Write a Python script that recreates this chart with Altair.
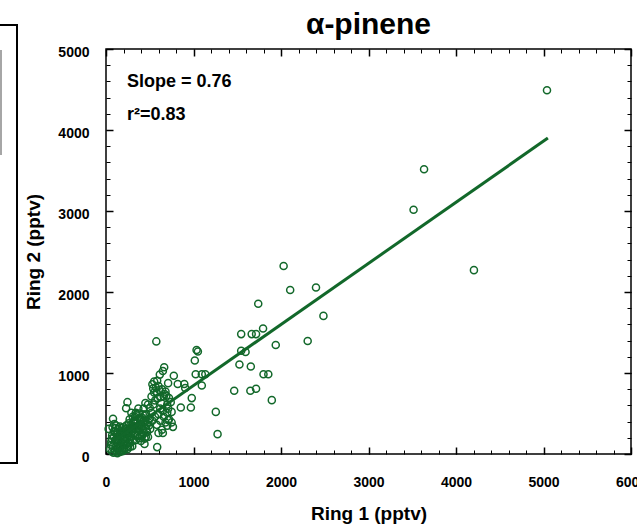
import altair as alt
import pandas as pd

# Ring 1 (x) and Ring 2 (y) concentrations, pptv
ring1 = [
    45, 60, 70, 80, 90, 100, 105, 115, 120, 125,
    130, 135, 140, 145, 150, 155, 160, 165, 170, 175,
    180, 185, 190, 195, 200, 205, 210, 215, 220, 225,
    230, 235, 240, 245, 250, 255, 260, 265, 270, 275,
    70, 85, 100, 120, 140, 160, 180, 200, 220, 240,
    130, 160, 190, 210, 230, 250, 170, 150, 110, 90,
    65, 55, 75, 95, 115, 280, 290, 300, 310, 320,
    330, 340, 350, 360, 370, 380, 390, 400, 410, 420,
    280, 300, 320, 340, 360, 380, 400, 420, 440, 460,
    270, 290, 310, 330, 350, 370, 390, 410, 430, 450,
    285, 325, 365, 405, 445, 485, 255, 295, 335, 375,
    415, 455, 265, 305, 345, 385, 425, 465, 505, 150,
    430, 440, 450, 460, 470, 480, 490, 500, 480, 500,
    520, 540, 560, 580, 600, 620, 640, 660, 680, 700,
    720, 740, 520, 540, 560, 580, 600, 620, 640, 660,
    680, 700, 720, 550, 570, 590, 610, 630, 650, 670,
    690, 710, 530, 600, 650, 700, 750, 530, 620, 750,
    5040, 3635, 3515, 4205, 2030, 2105, 2400, 1740, 2485, 1940,
    2305, 1895, 1795, 1545, 1665, 1715, 1035, 1050, 1545, 1595,
    1015, 1525, 1655, 1025, 1095, 1135, 1800, 1855, 895, 1095,
    1465, 1650, 1715, 980, 855, 970, 1255, 1275, 575, 665,
    650, 615, 775, 550, 585, 710, 820, 905, 245, 230,
    80, 765, 585, 440, 30, 710,
]
ring2 = [
    60, 150, 30, 100, 210, 50, 170, 90, 260, 20,
    140, 70, 220, 180, 40, 110, 280, 200, 90, 150,
    320, 45, 240, 130, 180, 70, 290, 210, 160, 110,
    350, 250, 190, 60, 220, 140, 380, 300, 170, 90,
    230, 15, 270, 190, 310, 340, 265, 330, 270, 310,
    10, 25, 35, 55, 120, 85, 225, 65, 320, 280,
    190, 110, 330, 370, 350, 360, 210, 320, 390, 260,
    460, 170, 340, 410, 280, 500, 220, 370, 450, 310,
    140, 95, 410, 510, 230, 360, 160, 490, 390, 310,
    430, 510, 170, 310, 490, 560, 430, 340, 260, 630,
    330, 340, 320, 430, 480, 390, 270, 265, 230, 195,
    230, 210, 240, 460, 390, 310, 400, 360, 310, 150,
    560, 190, 400, 490, 270, 610, 350, 440, 210, 570,
    710, 810, 660, 760, 840, 560, 800, 710, 770, 610,
    690, 640, 510, 610, 460, 360, 490, 410, 300, 460,
    390, 510, 430, 760, 820, 690, 790, 630, 530, 740,
    720, 560, 410, 260, 260, 350, 390, 860, 700, 520,
    4490, 3515, 3015, 2270, 2320, 2025, 2055, 1855, 1705, 1345,
    1395, 665, 1550, 1480, 1480, 1480, 1285, 1265, 1275, 1260,
    1155, 1105, 1080, 985, 985, 985, 985, 985, 865, 845,
    780, 780, 805, 690, 575, 575, 520, 245, 1390, 1070,
    1025, 980, 965, 895, 905, 875, 865, 815, 640, 565,
    435, 335, 85, 125, 310, 420,
]

# Regression line end points
fit_x = [50, 5050]
fit_y = [128, 3900]

# Axis tick values
x_major = [0, 1000, 2000, 3000, 4000, 5000, 6000]
y_major = [0, 1000, 2000, 3000, 4000, 5000]
x_minor = list(range(0, 6001, 200))
y_minor = list(range(0, 5001, 200))

GREEN = "#12682a"
FONT = "Liberation Sans"

pts = pd.DataFrame({"ring1": ring1, "ring2": ring2})
fit = pd.DataFrame({"ring1": fit_x, "ring2": fit_y})

xs = alt.Scale(domain=[0, 6000], nice=False, zero=False)
ys = alt.Scale(domain=[0, 5000], nice=False, zero=False)


def tick_axis(orient, values, size, width, labels=False, title=None, pad=0,
              tpad=0, loff=0):
    kw = dict(
        orient=orient, values=values, tickSize=size, offset=-size,
        tickWidth=width, tickColor="black", domain=False, grid=False,
        labels=labels, ticks=True,
    )
    if labels:
        kw.update(labelPadding=pad, format="d", labelFont=FONT,
                  labelFontSize=14, labelFontWeight="bold", labelColor="black",
                  labelFlush=False, labelOverlap=False, labelOffset=loff,
                  labelBound=False)
    if title:
        kw.update(title=title, titleFont=FONT, titleFontSize=19,
                  titleFontWeight="bold", titleColor="black", titlePadding=tpad)
    else:
        kw.update(title=None)
    return alt.Axis(**kw)


points = alt.Chart(pts).mark_point(
    shape="circle", filled=False, color=GREEN, size=50, strokeWidth=1.5, opacity=1
).encode(
    x=alt.X("ring1:Q", scale=xs,
            axis=tick_axis("bottom", x_major, 7, 1.5, labels=True,
                           title="Ring 1 (pptv)", pad=21, tpad=15)),
    y=alt.Y("ring2:Q", scale=ys,
            axis=tick_axis("left", y_major, 7, 1.5, labels=True,
                           title="Ring 2 (pptv)", pad=17, tpad=14, loff=3)),
)

line = alt.Chart(fit).mark_line(color=GREEN, strokeWidth=3).encode(
    x=alt.X("ring1:Q", scale=xs, axis=tick_axis("top", x_major, 7, 1.5)),
    y=alt.Y("ring2:Q", scale=ys, axis=tick_axis("right", y_major, 7, 1.5)),
)

minor1 = alt.Chart(fit).mark_point(opacity=0).encode(
    x=alt.X("ring1:Q", scale=xs, axis=tick_axis("bottom", x_minor, 4, 1)),
    y=alt.Y("ring2:Q", scale=ys, axis=tick_axis("left", y_minor, 4, 1)),
)

minor2 = alt.Chart(fit).mark_point(opacity=0).encode(
    x=alt.X("ring1:Q", scale=xs, axis=tick_axis("top", x_minor, 4, 1)),
    y=alt.Y("ring2:Q", scale=ys, axis=tick_axis("right", y_minor, 4, 1)),
)

one = alt.Data(values=[{}])

slope_txt = alt.Chart(one).mark_text(
    align="left", baseline="middle", font=FONT, fontSize=18,
    fontWeight="bold", color="black"
).encode(x=alt.value(21), y=alt.value(33), text=alt.value("Slope = 0.76"))

r2_txt = alt.Chart(one).mark_text(
    align="left", baseline="middle", font=FONT, fontSize=18,
    fontWeight="bold", color="black"
).encode(x=alt.value(21), y=alt.value(66), text=alt.value("r²=0.83"))

# partial neighbouring panel frame at the left edge
side_box = alt.Chart(one).mark_rect(
    fill=None, stroke="black", strokeWidth=2
).encode(x=alt.value(-200), x2=alt.value(-89), y=alt.value(-24), y2=alt.value(414))

side_rule = alt.Chart(one).mark_rule(color="#888888", strokeWidth=1.5).encode(
    x=alt.value(-105), y=alt.value(1), y2=alt.value(106)
)

chart = alt.layer(
    points, line, minor1, minor2, slope_txt, r2_txt, side_box, side_rule
).resolve_axis(
    x="independent", y="independent"
).properties(
    width=525,
    height=405,
    padding={"left": 106, "top": 49, "right": 6, "bottom": 74},
    autosize=alt.AutoSizeParams(type="none"),
    title=alt.TitleParams("α-pinene", font=FONT, fontSize=30, fontWeight="bold",
                          anchor="middle", color="black", offset=-16),
).configure_view(
    stroke="black", strokeWidth=1.5
)

chart.save("out.html", embed_options={"renderer": "svg", "actions": False})
